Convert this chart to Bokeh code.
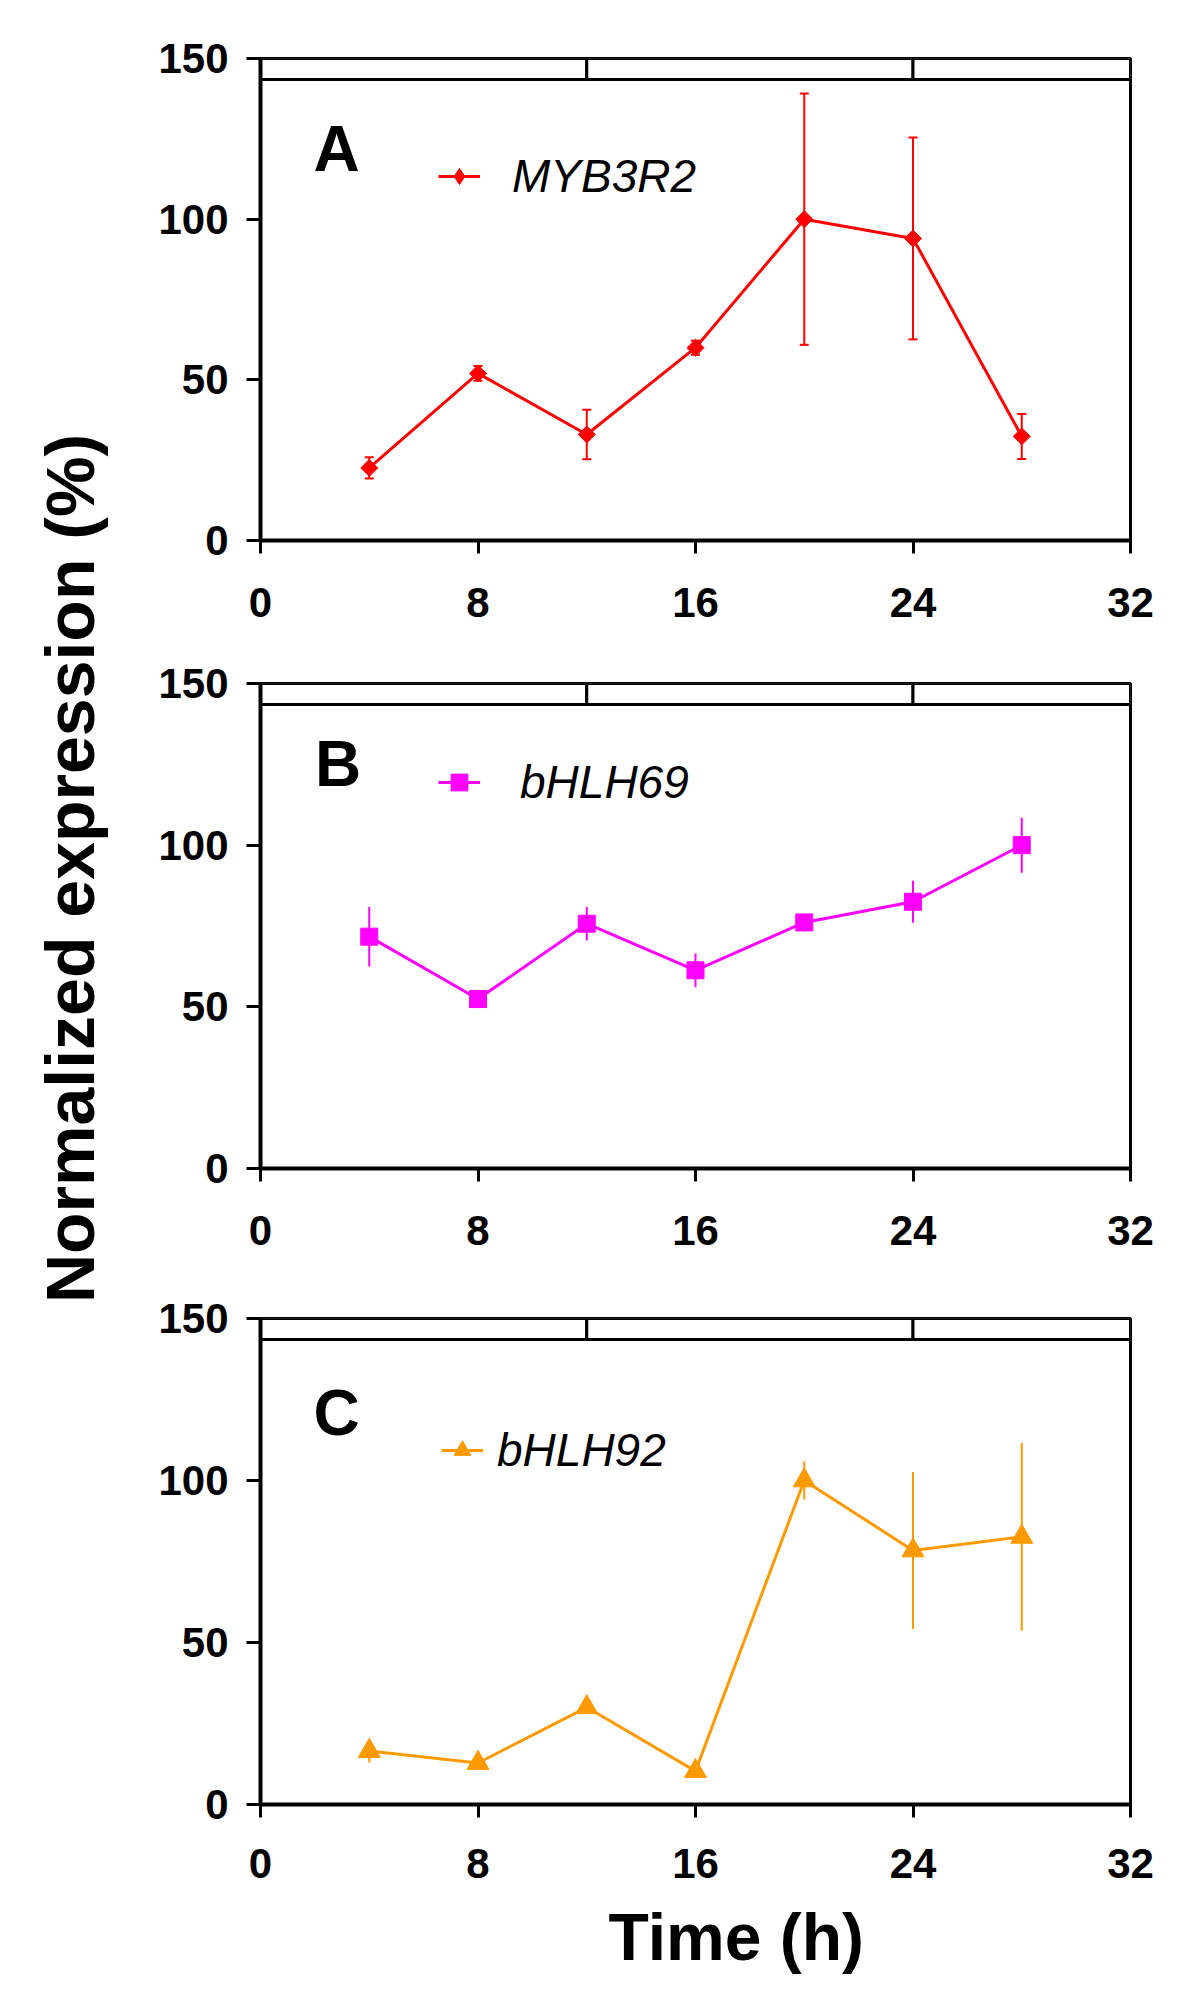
import numpy as np
from bokeh.plotting import figure
from bokeh.models import (Range1d, Legend, LegendItem, ColumnDataSource, Whisker,
                          TeeHead, Label, FixedTicker)
from bokeh.layouts import row, column
from bokeh.embed import file_html
from bokeh.resources import INLINE
from bokeh.core.properties import value

# ---------------- data ----------------
time_h = [4, 8, 12, 16, 20, 24, 28]
myb3r2 = [22.6, 52.0, 33.0, 60.0, 100.0, 94.0, 32.4]
myb3r2_err = [3.3, 2.3, 7.7, 2.2, 39.1, 31.4, 7.0]
bhlh69 = [71.7, 52.4, 75.7, 61.3, 76.1, 82.5, 100.0]
bhlh69_err = [9.2, 1.2, 5.2, 5.2, 2.7, 6.5, 8.5]
bhlh92 = [16.5, 12.8, 30.0, 10.3, 100.0, 78.4, 82.6]
bhlh92_err = [3.5, 1.2, 1.5, 1.0, 5.9, 24.2, 29.0]
x_ticks = [0, 8, 16, 24, 32]
y_ticks = [0, 50, 100, 150]
band_starts = [0, 12, 24]
band_ends = [12, 24, 32]
band_low = 143.5
band_high = 150.0

FONT = "Liberation Sans"
LEFT_W = 108
RIGHT_W = 1088
TOTAL_H = 1996
H_A, H_B, H_C = 640, 628, 628
H_T = TOTAL_H - H_A - H_B - H_C


def panel(height, b_top, b_left, b_bottom, x_standoff, vals, errs, color, marker, msize, angle,
          leg_marker, leg_gh, name, letter, letter_xy, leg_loc, leg_standoff, caps):
    p = figure(width=RIGHT_W, height=height, x_range=Range1d(0, 32), y_range=Range1d(0, 150),
               toolbar_location=None, output_backend="svg",
               min_border_top=b_top, min_border_left=b_left,
               min_border_bottom=b_bottom, min_border_right=66)
    p.grid.visible = False
    p.outline_line_color = "black"
    p.outline_line_width = 3
    p.background_fill_color = "white"
    p.border_fill_color = "white"

    for ax in (p.xaxis[0], p.yaxis[0]):
        ax.axis_line_width = 4
        ax.axis_line_color = "black"
        ax.major_tick_line_width = 3
        ax.major_tick_in = 0
        ax.minor_tick_line_color = None
        ax.major_label_text_font = FONT
        ax.major_label_text_font_style = "bold"
        ax.major_label_text_font_size = "42px"
        ax.major_label_text_color = "black"
    p.xaxis.ticker = FixedTicker(ticks=x_ticks)
    p.yaxis.ticker = FixedTicker(ticks=y_ticks)
    p.xaxis.major_tick_out = 13
    p.yaxis.major_tick_out = 14
    p.xaxis.major_label_standoff = x_standoff
    p.yaxis.major_label_standoff = 18

    # light/dark band at top
    p.quad(left=band_starts, right=band_ends, bottom=band_low, top=band_high,
           fill_color="white", line_color="black", line_width=3)

    lo = [v - e for v, e in zip(vals, errs)]
    hi = [v + e for v, e in zip(vals, errs)]
    src = ColumnDataSource(dict(t=time_h, v=vals, lo=lo, hi=hi))
    if caps:
        w = Whisker(source=src, base="t", upper="hi", lower="lo", dimension="height",
                    line_color=color, line_width=2,
                    upper_head=TeeHead(size=9, line_color=color, line_width=2),
                    lower_head=TeeHead(size=9, line_color=color, line_width=2))
        p.add_layout(w)
    else:
        p.segment(x0="t", y0="lo", x1="t", y1="hi", source=src, line_color=color, line_width=2)

    lr = p.line(x="t", y="v", source=src, line_color=color, line_width=3)
    sr = p.scatter(x="t", y="v", source=src, marker=marker, size=msize, angle=angle,
                   fill_color=color, line_color=color)
    if leg_marker is not None:
        # marker used only for the legend swatch (legend swatches are never rotated)
        sr_leg = p.scatter(x="t", y="v", source=src, marker=leg_marker, size=msize,
                           fill_color=color, line_color=color, visible=False)
        leg_renderers = [lr, sr_leg]
    else:
        leg_renderers = [lr, sr]

    leg = Legend(items=[LegendItem(label=name, renderers=leg_renderers)], location=leg_loc,
                 orientation="vertical")
    leg.border_line_color = None
    leg.background_fill_alpha = 0
    leg.margin = 0
    leg.padding = 0
    leg.glyph_width = 42
    leg.glyph_height = leg_gh
    leg.label_standoff = leg_standoff
    leg.label_text_font = FONT
    leg.label_text_font_style = "italic"
    leg.label_text_font_size = "46px"
    leg.label_text_color = "black"
    p.add_layout(leg, "center")

    p.add_layout(Label(x=letter_xy[0], y=letter_xy[1], text=letter, text_font=FONT,
                       text_font_style="bold", text_font_size="64px", text_color="black",
                       text_align="left", text_baseline="alphabetic"))
    return p


pa = panel(H_A, 58, 152, 100, 34, myb3r2, myb3r2_err, "#ff0000", "square", 12, np.pi / 4,
           "diamond", 40, "MYB3R2", "A", (1.95, 121.7), (178, 337), 32, True)
pb = panel(H_B, 43, 149, 100, 34, bhlh69, bhlh69_err, "#ff00ff", "square", 17, 0,
           None, 42, "bHLH69", "B", (2.0, 125.1), (178, 359), 40, False)
pc = panel(H_C, 50, 147, 92, 31, bhlh92, bhlh92_err, "#ff9900", "triangle", 22, 0,
           None, 42, "bHLH92", "C", (1.95, 120.7), (181, 327), 14, False)


def blank(w, h):
    f = figure(width=w, height=h, x_range=Range1d(0, w), y_range=Range1d(0, h),
               toolbar_location=None, output_backend="svg", min_border=0,
               x_axis_location=None, y_axis_location=None)
    f.grid.visible = False
    f.outline_line_color = None
    return f


ylab = blank(LEFT_W, TOTAL_H)
ylab.text(x=[69], y=[TOTAL_H - 868], text=["Normalized expression (%)"], angle=np.pi / 2,
          text_align="center", text_baseline="middle", text_font=value(FONT),
          text_font_style="bold", text_font_size="68px", text_color="black")

xlab = blank(RIGHT_W, H_T)
xlab.text(x=[595], y=[H_T - 40], text=["Time (h)"], text_align="center",
          text_baseline="middle", text_font=value(FONT),
          text_font_style="bold", text_font_size="66px", text_color="black")

layout = row(ylab, column(pa, pb, pc, xlab, spacing=0), spacing=0)

open("out.html", "w").write(file_html(layout, INLINE))
